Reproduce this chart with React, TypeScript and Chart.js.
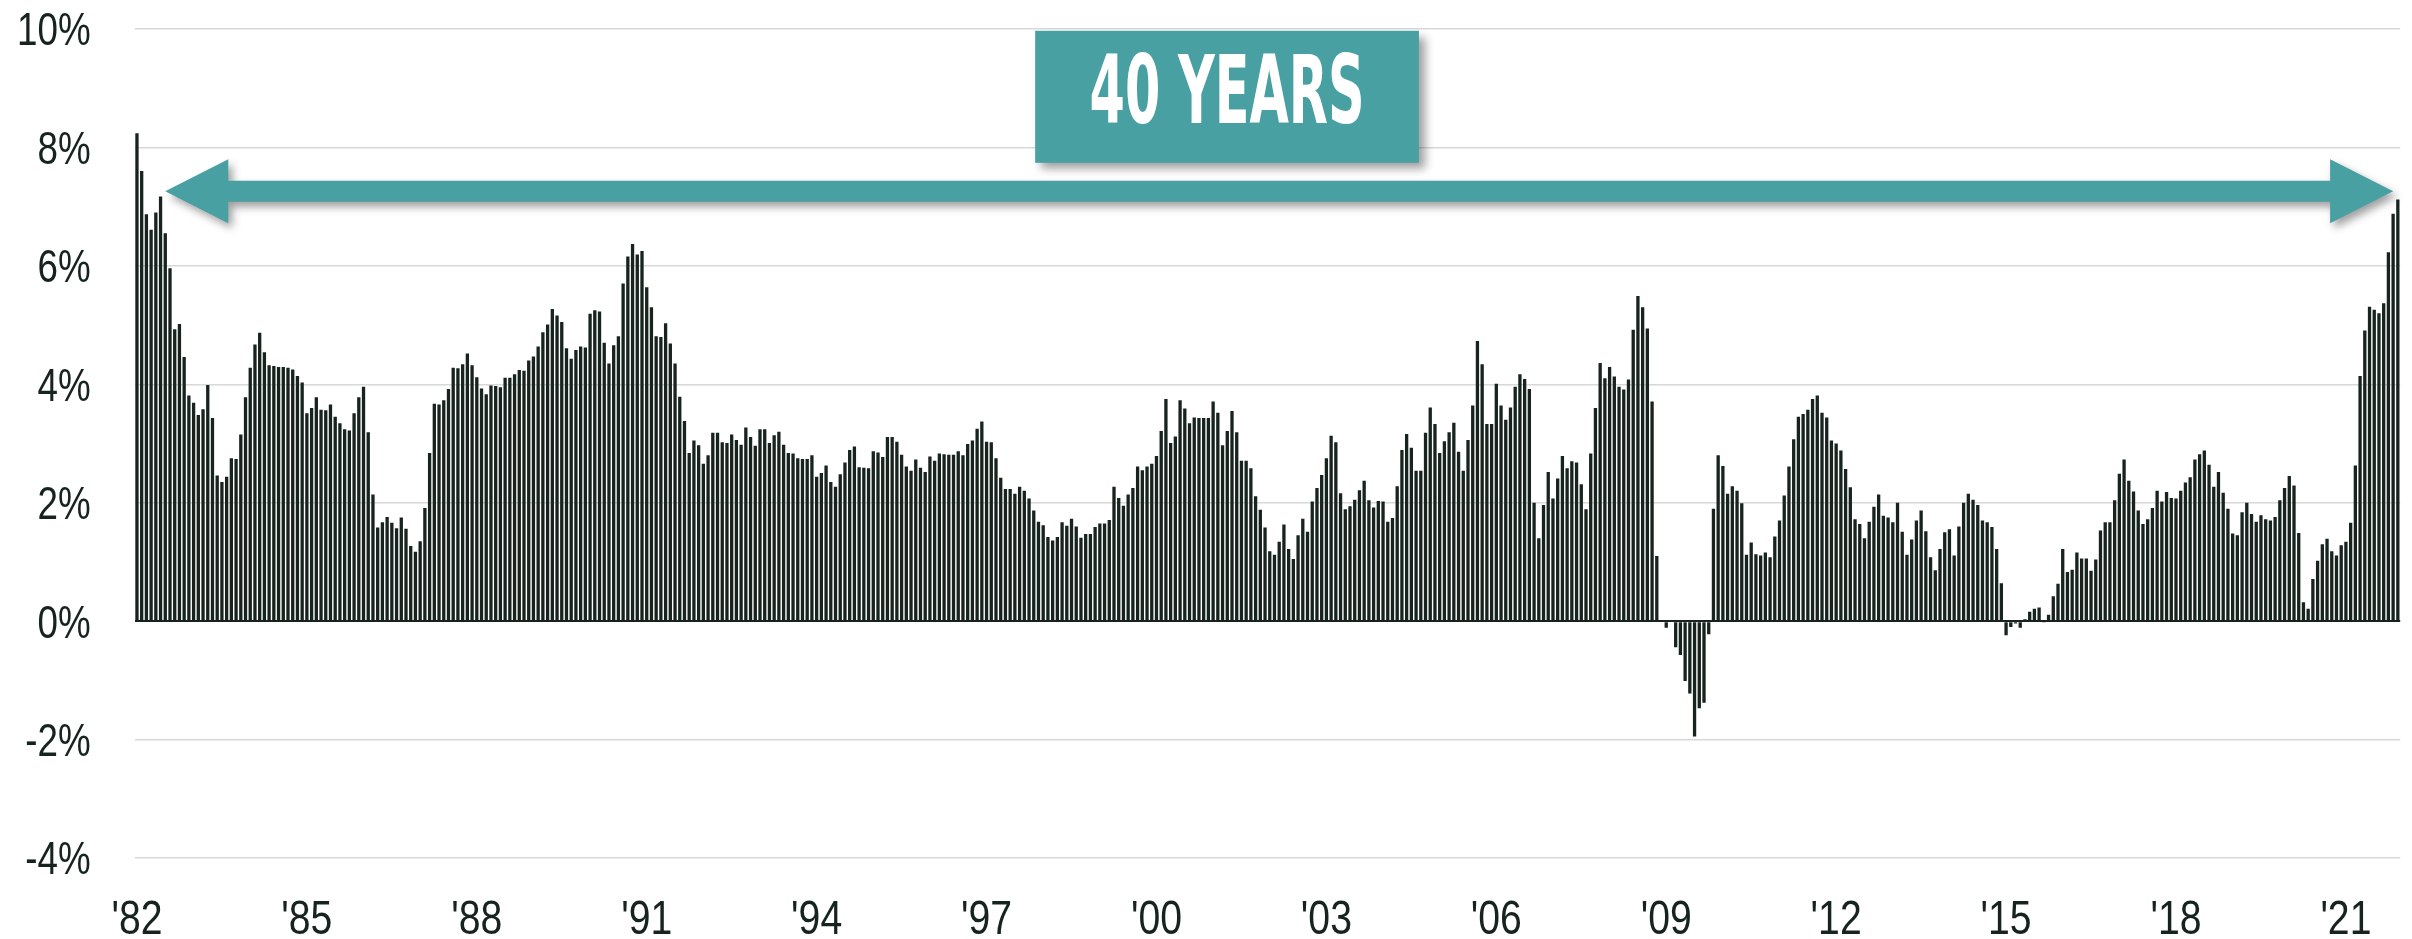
import { useEffect, useRef } from 'react';
import { Chart, registerables } from 'chart.js';

Chart.register(...registerables);

// Year-over-year inflation, monthly values (%)
const y1982 = [8.24, 7.6, 6.87, 6.61, 6.9, 7.17, 6.55, 5.96, 4.93, 5.02, 4.46, 3.81];
const y1983 = [3.69, 3.48, 3.58, 3.99, 3.43, 2.46, 2.35, 2.44, 2.75, 2.74, 3.15, 3.78];
const y1984 = [4.28, 4.67, 4.87, 4.54, 4.32, 4.31, 4.29, 4.29, 4.28, 4.25, 4.14, 4.03];
const y1985 = [3.51, 3.6, 3.78, 3.57, 3.56, 3.66, 3.45, 3.34, 3.24, 3.22, 3.51, 3.78];
const y1986 = [3.96, 3.19, 2.14, 1.58, 1.67, 1.76, 1.66, 1.57, 1.75, 1.56, 1.27, 1.17];
const y1987 = [1.35, 1.91, 2.84, 3.67, 3.66, 3.73, 3.92, 4.28, 4.27, 4.34, 4.52, 4.32];
const y1988 = [4.12, 3.93, 3.83, 3.98, 3.97, 3.95, 4.11, 4.11, 4.17, 4.24, 4.23, 4.4];
const y1989 = [4.47, 4.64, 4.88, 5.01, 5.27, 5.16, 5.05, 4.61, 4.43, 4.58, 4.64, 4.62];
const y1990 = [5.19, 5.25, 5.23, 4.7, 4.35, 4.66, 4.81, 5.7, 6.16, 6.37, 6.19, 6.25];
const y1991 = [5.64, 5.3, 4.81, 4.8, 5.03, 4.69, 4.35, 3.79, 3.38, 2.84, 3.05, 2.97];
const y1992 = [2.66, 2.8, 3.18, 3.18, 3.02, 3.01, 3.15, 3.06, 2.98, 3.27, 3.11, 2.96];
const y1993 = [3.24, 3.24, 3.01, 3.14, 3.2, 2.98, 2.84, 2.83, 2.75, 2.74, 2.74, 2.8];
const y1994 = [2.44, 2.5, 2.63, 2.35, 2.27, 2.48, 2.68, 2.89, 2.95, 2.6, 2.59, 2.58];
const y1995 = [2.87, 2.85, 2.77, 3.11, 3.11, 3.03, 2.81, 2.61, 2.54, 2.73, 2.59, 2.52];
const y1996 = [2.78, 2.71, 2.83, 2.82, 2.81, 2.81, 2.87, 2.8, 2.99, 3.05, 3.25, 3.37];
const y1997 = [3.03, 3.02, 2.75, 2.42, 2.23, 2.23, 2.15, 2.27, 2.2, 2.07, 1.87, 1.68];
const y1998 = [1.62, 1.42, 1.36, 1.42, 1.67, 1.61, 1.73, 1.6, 1.41, 1.47, 1.47, 1.59];
const y1999 = [1.65, 1.65, 1.71, 2.27, 2.08, 1.95, 2.14, 2.25, 2.61, 2.55, 2.61, 2.66];
const y2000 = [2.79, 3.21, 3.75, 3.01, 3.12, 3.73, 3.59, 3.34, 3.44, 3.43, 3.43, 3.43];
const y2001 = [3.71, 3.52, 2.97, 3.21, 3.55, 3.19, 2.71, 2.71, 2.58, 2.11, 1.88, 1.58];
const y2002 = [1.18, 1.12, 1.34, 1.63, 1.22, 1.05, 1.45, 1.73, 1.51, 2.02, 2.25, 2.47];
const y2003 = [2.75, 3.13, 3.02, 2.16, 1.89, 1.94, 2.05, 2.21, 2.37, 2.04, 1.92, 2.03];
const y2004 = [2.02, 1.68, 1.74, 2.28, 2.89, 3.16, 2.93, 2.54, 2.54, 3.18, 3.61, 3.33];
const y2005 = [2.84, 3.04, 3.19, 3.35, 2.86, 2.54, 3.06, 3.64, 4.73, 4.34, 3.33, 3.33];
const y2006 = [4.01, 3.64, 3.4, 3.61, 3.96, 4.17, 4.09, 3.92, 2.0, 1.4, 1.96, 2.52];
const y2007 = [2.07, 2.41, 2.79, 2.58, 2.7, 2.68, 2.31, 1.89, 2.83, 3.6, 4.36, 4.1];
const y2008 = [4.29, 4.13, 3.96, 3.91, 4.08, 4.92, 5.49, 5.3, 4.94, 3.71, 1.1, -0.02];
const y2009 = [-0.11, 0.01, -0.44, -0.57, -1.01, -1.22, -1.95, -1.47, -1.38, -0.22, 1.9, 2.8];
const y2010 = [2.62, 2.15, 2.28, 2.2, 1.99, 1.12, 1.33, 1.13, 1.11, 1.16, 1.08, 1.43];
const y2011 = [1.7, 2.12, 2.61, 3.07, 3.45, 3.5, 3.57, 3.75, 3.81, 3.52, 3.44, 3.05];
const y2012 = [3.0, 2.88, 2.57, 2.26, 1.72, 1.64, 1.4, 1.68, 1.93, 2.14, 1.78, 1.75];
const y2013 = [1.67, 2.0, 1.51, 1.12, 1.38, 1.7, 1.87, 1.52, 1.08, 0.86, 1.22, 1.5];
const y2014 = [1.55, 1.11, 1.6, 2.0, 2.15, 2.05, 1.96, 1.7, 1.67, 1.59, 1.22, 0.64];
const y2015 = [-0.24, -0.1, -0.04, -0.11, 0.03, 0.16, 0.21, 0.23, -0.01, 0.11, 0.42, 0.63];
const y2016 = [1.22, 0.83, 0.87, 1.16, 1.06, 1.06, 0.85, 1.04, 1.53, 1.67, 1.67, 2.04];
const y2017 = [2.49, 2.73, 2.37, 2.19, 1.87, 1.64, 1.72, 1.91, 2.2, 2.02, 2.18, 2.08];
const y2018 = [2.07, 2.2, 2.34, 2.43, 2.73, 2.82, 2.88, 2.64, 2.27, 2.52, 2.17, 1.9];
const y2019 = [1.48, 1.45, 1.84, 2.0, 1.81, 1.68, 1.79, 1.72, 1.7, 1.76, 2.04, 2.25];
const y2020 = [2.45, 2.29, 1.49, 0.32, 0.21, 0.71, 1.02, 1.3, 1.39, 1.18, 1.11, 1.28];
const y2021 = [1.34, 1.66, 2.63, 4.14, 4.91, 5.31, 5.26, 5.2, 5.37, 6.23, 6.88, 7.12];

const yearlyValues = [
  y1982, y1983, y1984, y1985, y1986, y1987, y1988, y1989, y1990, y1991,
  y1992, y1993, y1994, y1995, y1996, y1997, y1998, y1999, y2000, y2001,
  y2002, y2003, y2004, y2005, y2006, y2007, y2008, y2009, y2010, y2011,
  y2012, y2013, y2014, y2015, y2016, y2017, y2018, y2019, y2020, y2021,
];
const startYear = 1982;
const monthCodes = ['01', '02', '03', '04', '05', '06', '07', '08', '09', '10', '11', '12'];
const categories = yearlyValues.flatMap((_, k) => monthCodes.map((m) => `${startYear + k}-${m}`));
const inflation = yearlyValues.flat();

// Axis labels
const xTickYears = [1982, 1985, 1988, 1991, 1994, 1997, 2000, 2003, 2006, 2009, 2012, 2015, 2018, 2021];
const yMin = -4;
const yMax = 10;
const yStep = 2;
const bannerText = '40 YEARS';

const LABEL_FONT = "'Liberation Sans', Arial, sans-serif";
const BANNER_FONT = "'DejaVu Sans Condensed', 'DejaVu Sans', sans-serif";
const TEAL = '#48a0a2';
const INK = '#17231d';

const xLabelText = (i: number) => {
  const [yy, mm] = categories[i].split('-');
  if (mm === '01' && xTickYears.includes(Number(yy))) return "'" + yy.slice(2);
  return '';
};

// Tick labels in a condensed (Arial-Narrow-like) face, positioned from the chart's own scales
const narrowTickLabels = {
  id: 'narrowTickLabels',
  afterDraw(chart: any) {
    const { ctx, scales } = chart;
    const x = scales.x;
    const y = scales.y;
    ctx.save();
    ctx.fillStyle = INK;
    ctx.textBaseline = 'alphabetic';

    const ySize = 46;
    ctx.font = `${ySize}px ${LABEL_FONT}`;
    ctx.textAlign = 'right';
    const yRight = y.right - 44;
    y.ticks.forEach((t: any) => {
      const py = y.getPixelForValue(t.value);
      ctx.save();
      ctx.translate(yRight, py + ySize * 0.716 / 2);
      ctx.scale(0.8, 1);
      ctx.fillText(`${t.value}%`, 0, 0);
      ctx.restore();
    });

    const xSize = 49;
    ctx.font = `${xSize}px ${LABEL_FONT}`;
    ctx.textAlign = 'center';
    const baseY = x.top + 76;
    categories.forEach((_, i) => {
      const text = xLabelText(i);
      if (!text) return;
      ctx.save();
      ctx.translate(x.getPixelForValue(i), baseY);
      ctx.scale(0.8, 1);
      ctx.fillText(text, 0, 0);
      ctx.restore();
    });
    ctx.restore();
  },
};

const annotationPlugin = {
  id: 'fortyYearsAnnotation',
  afterDraw(chart: any) {
    const { ctx, scales } = chart;
    const x = scales.x;
    const y = scales.y;
    ctx.save();

    // double-headed arrow
    const x0 = x.getPixelForValue(6);
    const x1 = x.getPixelForValue(478);
    const yc = y.getPixelForValue(7.26);
    const half = 10.5;
    const headL = 63;
    const headH = 32;
    ctx.shadowColor = 'rgba(0,0,0,0.38)';
    ctx.shadowBlur = 8;
    ctx.shadowOffsetX = 4;
    ctx.shadowOffsetY = 5;
    ctx.fillStyle = TEAL;
    ctx.beginPath();
    ctx.moveTo(x0, yc);
    ctx.lineTo(x0 + headL, yc - headH);
    ctx.lineTo(x0 + headL, yc - half);
    ctx.lineTo(x1 - headL, yc - half);
    ctx.lineTo(x1 - headL, yc - headH);
    ctx.lineTo(x1, yc);
    ctx.lineTo(x1 - headL, yc + headH);
    ctx.lineTo(x1 - headL, yc + half);
    ctx.lineTo(x0 + headL, yc + half);
    ctx.lineTo(x0 + headL, yc + headH);
    ctx.closePath();
    ctx.fill();

    // banner box
    const bx0 = x.getPixelForValue(190.3);
    const bx1 = x.getPixelForValue(271.6);
    const by0 = y.getPixelForValue(9.97);
    const by1 = y.getPixelForValue(7.74);
    ctx.shadowOffsetX = 6;
    ctx.shadowOffsetY = 6;
    ctx.shadowBlur = 9;
    ctx.fillRect(bx0, by0, bx1 - bx0, by1 - by0);

    // banner text (condensed)
    ctx.shadowColor = 'transparent';
    ctx.shadowBlur = 0;
    ctx.shadowOffsetX = 0;
    ctx.shadowOffsetY = 0;
    ctx.fillStyle = '#ffffff';
    ctx.font = `bold 95px ${BANNER_FONT}`;
    ctx.textAlign = 'center';
    ctx.textBaseline = 'alphabetic';
    const w = ctx.measureText(bannerText).width;
    const sx = 275 / w;
    const cx = (bx0 + bx1) / 2;
    const baseY = y.getPixelForValue(8.41);
    ctx.translate(cx, baseY);
    ctx.scale(sx, 1);
    ctx.fillText(bannerText, 0, 0);
    ctx.restore();
  },
};

export default function App() {
  const canvasRef = useRef<HTMLCanvasElement | null>(null);

  useEffect(() => {
    document.body.style.margin = '0';
    document.body.style.background = '#ffffff';
    const canvas = canvasRef.current;
    if (!canvas) return;
    const chart = new Chart(canvas, {
      type: 'bar',
      data: {
        labels: categories,
        datasets: [
          {
            data: inflation,
            backgroundColor: INK,
            borderWidth: 0,
            barPercentage: 0.7,
            categoryPercentage: 1,
          },
        ],
      },
      options: {
        animation: false,
        responsive: true,
        maintainAspectRatio: false,
        devicePixelRatio: 1,
        layout: { padding: { top: 29, right: 11.8, bottom: 0, left: 0 } },
        plugins: {
          legend: { display: false },
          tooltip: { enabled: false },
        },
        scales: {
          x: {
            type: 'category',
            offset: true,
            grid: { display: false, drawTicks: false },
            border: { display: false },
            afterFit(scale: any) {
              scale.height = 81;
              scale.paddingLeft = 0;
              scale.paddingRight = 0;
            },
            ticks: { display: false, autoSkip: false, maxRotation: 0, minRotation: 0 },
          },
          y: {
            min: yMin,
            max: yMax,
            afterFit(scale: any) {
              scale.width = 134.6;
              scale.paddingTop = 0;
              scale.paddingBottom = 0;
            },
            grid: {
              drawTicks: false,
              color: (c: any) => (c.tick && c.tick.value === 0 ? INK : '#d8d8d8'),
              lineWidth: (c: any) => (c.tick && c.tick.value === 0 ? 2 : 1.5),
            },
            border: { display: false },
            ticks: { display: false, stepSize: yStep },
          },
        },
      },
      plugins: [narrowTickLabels, annotationPlugin],
    });
    return () => chart.destroy();
  }, []);

  return (
    <div style={{ width: '2412px', height: '939px', position: 'relative', background: '#fff' }}>
      <canvas ref={canvasRef} />
    </div>
  );
}
